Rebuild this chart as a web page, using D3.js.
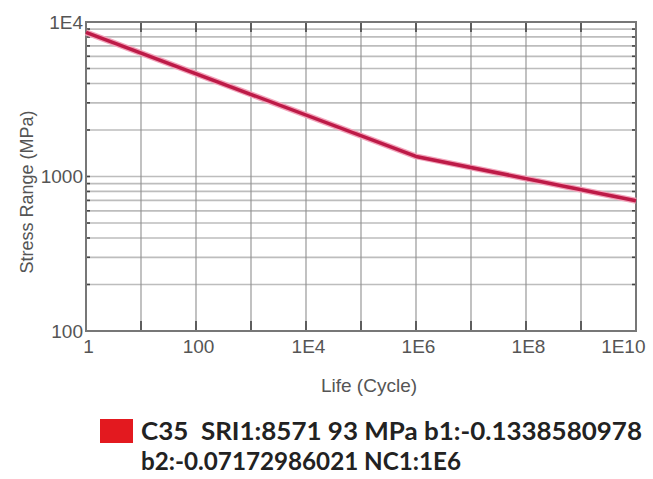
<!DOCTYPE html>
<html>
<head>
<meta charset="utf-8">
<script src="https://cdn.jsdelivr.net/npm/d3@7"></script>
<style>
  html, body { margin: 0; padding: 0; background: #fff; }
  svg { display: block; }
  .legend-text { white-space: pre; }
</style>
</head>
<body>
<svg id="chart" width="653" height="479"></svg>
<script>
// ---- data ----
const lifeCycles = [1, 1e6, 1e10];          // knee at NC1 = 1E6
const stressRange = [8572, 1349, 697];      // MPa
const xTickValues = [1, 1e2, 1e4, 1e6, 1e8, 1e10];
const xTickLabels = ["1", "100", "1E4", "1E6", "1E8", "1E10"];
const yTickValues = [100, 1000, 10000];
const yTickLabels = ["100", "1000", "1E4"];
const legendLines = ["C35  SRI1:8571 93 MPa b1:-0.1338580978", "b2:-0.07172986021 NC1:1E6"];
const seriesColor = "#bd1a47";
const legendColor = "#e3191f";

// ---- layout ----
const svg = d3.select("#chart");
const L = 86, T = 22, R = 636, B = 331;
const axisFont = "'Liberation Sans', Arial, sans-serif";

const x = d3.scaleLog().domain([1, 1e10]).range([L, R]);
const y = d3.scaleLog().domain([100, 1e4]).range([B, T]);

// horizontal grid (minor log lines)
const yGrid = y.ticks();
svg.append("g").selectAll("line").data(yGrid).join("line")
  .attr("x1", L).attr("x2", R)
  .attr("y1", d => y(d)).attr("y2", d => y(d))
  .attr("stroke", "#bdbdbd").attr("stroke-width", 1.7);

// vertical grid
const xGrid = d3.range(0, 11).map(i => Math.pow(10, i));
svg.append("g").selectAll("line").data(xGrid).join("line")
  .attr("x1", d => x(d)).attr("x2", d => x(d))
  .attr("y1", T).attr("y2", B)
  .attr("stroke", "#8f8f8f").attr("stroke-width", 1.1);

// small ticks on left and right for each y grid line
svg.append("g").selectAll("line").data(yGrid).join("line")
  .attr("x1", L).attr("x2", L + 4)
  .attr("y1", d => y(d)).attr("y2", d => y(d))
  .attr("stroke", "#444").attr("stroke-width", 1.6);
svg.append("g").selectAll("line").data(yGrid).join("line")
  .attr("x1", R - 4).attr("x2", R)
  .attr("y1", d => y(d)).attr("y2", d => y(d))
  .attr("stroke", "#444").attr("stroke-width", 1.6);

// decade ticks on bottom and top
svg.append("g").selectAll("line").data(xGrid).join("line")
  .attr("x1", d => x(d)).attr("x2", d => x(d))
  .attr("y1", B).attr("y2", B - 10)
  .attr("stroke", "#444").attr("stroke-width", 1.6);
svg.append("g").selectAll("line").data(xGrid).join("line")
  .attr("x1", d => x(d)).attr("x2", d => x(d))
  .attr("y1", T).attr("y2", T + 10)
  .attr("stroke", "#444").attr("stroke-width", 1.6);

// frame
svg.append("rect")
  .attr("x", L).attr("y", T).attr("width", R - L).attr("height", B - T)
  .attr("fill", "none").attr("stroke", "#777").attr("stroke-width", 2);

// x axis labels
const xAxis = d3.axisBottom(x)
  .tickValues(xTickValues)
  .tickFormat((d, i) => xTickLabels[i])
  .tickSize(0).tickPadding(9);
const gx = svg.append("g").attr("transform", `translate(0,${B})`).call(xAxis);
gx.select(".domain").remove();
gx.selectAll("text")
  .attr("font-family", axisFont)
  .attr("font-size", 19).attr("fill", "#555")
  .attr("dx", 2);
gx.selectAll(".tick").filter((d, i) => i === xTickValues.length - 1)
  .select("text").attr("text-anchor", "end").attr("dx", 9);

// y axis labels
const yAxis = d3.axisLeft(y)
  .tickValues(yTickValues)
  .tickFormat((d, i) => yTickLabels[i])
  .tickSize(0).tickPadding(3);
const gy = svg.append("g").attr("transform", `translate(${L},0)`).call(yAxis);
gy.select(".domain").remove();
gy.selectAll("text")
  .attr("font-family", axisFont)
  .attr("font-size", 19).attr("fill", "#555");

// axis titles
svg.append("text")
  .attr("x", 369).attr("y", 392)
  .attr("text-anchor", "middle")
  .attr("font-family", axisFont)
  .attr("font-size", 19).attr("fill", "#555")
  .text("Life (Cycle)");
svg.append("text")
  .attr("transform", "translate(33,192) rotate(-90)")
  .attr("text-anchor", "middle")
  .attr("font-family", axisFont)
  .attr("font-size", 18).attr("fill", "#555")
  .text("Stress Range (MPa)");

// S-N curve
const pts = lifeCycles.map((n, i) => [n, stressRange[i]]);
const line = d3.line().x(d => x(d[0])).y(d => y(d[1]));
svg.append("path").datum(pts)
  .attr("d", line).attr("fill", "none")
  .attr("stroke", "#f2a3ba").attr("stroke-width", 6)
  .attr("stroke-linejoin", "round");
svg.append("path").datum(pts)
  .attr("d", line).attr("fill", "none")
  .attr("stroke", seriesColor).attr("stroke-width", 3.5)
  .attr("stroke-linejoin", "round");

// legend
svg.append("rect")
  .attr("x", 100).attr("y", 419).attr("width", 33).attr("height", 24)
  .attr("fill", legendColor);
const legendWidths = [501, 320];
svg.append("g").selectAll("text").data(legendLines).join("text")
  .attr("class", "legend-text")
  .attr("x", 141).attr("y", (d, i) => 440 + i * 30)
  .attr("font-family", "Lato, 'Open Sans', sans-serif")
  .attr("font-weight", "bold")
  .attr("font-size", 24).attr("fill", "#222")
  .attr("textLength", (d, i) => legendWidths[i])
  .attr("lengthAdjust", "spacingAndGlyphs")
  .text(d => d);
</script>
</body>
</html>
